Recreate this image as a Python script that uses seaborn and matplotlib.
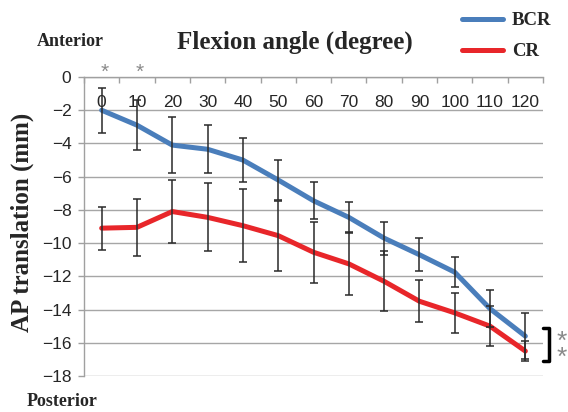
import matplotlib
matplotlib.use("Agg")
import matplotlib.pyplot as plt
import seaborn as sns
import pandas as pd
import numpy as np
from matplotlib.lines import Line2D
from matplotlib.font_manager import FontProperties

angles = [0, 10, 20, 30, 40, 50, 60, 70, 80, 90, 100, 110, 120]
bcr_mean = [-2.0, -2.9, -4.1, -4.35, -5.0, -6.2, -7.45, -8.45, -9.7, -10.7, -11.75, -13.95, -15.6]
bcr_sd = [1.35, 1.5, 1.7, 1.45, 1.3, 1.2, 1.1, 0.95, 1.0, 1.0, 0.9, 1.1, 1.4]
cr_mean = [-9.1, -9.05, -8.1, -8.45, -8.95, -9.55, -10.55, -11.25, -12.3, -13.5, -14.2, -15.0, -16.5]
cr_sd = [1.3, 1.7, 1.9, 2.05, 2.2, 2.1, 1.85, 1.9, 1.8, 1.25, 1.2, 1.2, 0.6]
groups = ["BCR", "CR"]
y_ticks = list(range(-18, 1, 2))

sns.set_style("white")
plt.rcParams["font.family"] = ["Liberation Sans", "DejaVu Sans"]

W, H = 568, 412
fig = plt.figure(figsize=(W / 100, H / 100), dpi=100)
ax = fig.add_axes([84 / W, 1 - 376 / H, (543 - 84) / W, (376 - 77) / H])

df = pd.DataFrame({
    "angle": angles * 2,
    "value": bcr_mean + cr_mean,
    "group": [groups[0]] * len(angles) + [groups[1]] * len(angles),
})
palette = {"BCR": "#4a7ebb", "CR": "#e8262a"}
sns.lineplot(data=df, x="angle", y="value", hue="group", palette=palette,
             linewidth=3.6, ax=ax, sort=False, zorder=2)

for m, s in ((bcr_mean, bcr_sd), (cr_mean, cr_sd)):
    ax.errorbar(angles, m, yerr=s, fmt="none", ecolor="#2a2a2a",
                elinewidth=1.1, capsize=3, capthick=1.1, zorder=3)

ax.set_xlim(-5, 125)
ax.set_ylim(-18, 0)
ax.set_yticks(y_ticks)
ax.set_axisbelow(True)
ax.yaxis.grid(True, color="#a6a6a6", linewidth=1)
ax.xaxis.grid(False)

ax.xaxis.tick_top()
ax.set_xticks(angles)
ax.set_xticklabels([str(a) for a in angles])
ax.set_xticks(np.arange(-5, 126, 10), minor=True)
ax.tick_params(axis="x", which="major", length=0, pad=-24, labelsize=12.5,
               top=True, bottom=False, labeltop=True, labelbottom=False)
ax.tick_params(axis="x", which="minor", direction="in", length=4,
               color="#a0a0a0", width=1, top=True, bottom=False)
ax.tick_params(axis="y", which="major", direction="out", length=4,
               color="#a0a0a0", width=1, left=True, labelsize=12.5, pad=5)

for side in ("right", "bottom"):
    ax.spines[side].set_visible(False)
for side in ("top", "left"):
    ax.spines[side].set_color("#a0a0a0")
    ax.spines[side].set_linewidth(1)

ax.set_xlabel("")
ax.set_ylabel("")

handles, labels = ax.get_legend_handles_labels()
if ax.get_legend() is not None:
    ax.get_legend().remove()
leg = fig.legend(handles, labels, loc="upper left",
                 bbox_to_anchor=(462 / W, 1 - 12 / H), bbox_transform=fig.transFigure,
                 frameon=False,
                 prop=FontProperties(family="Liberation Serif", weight="bold", size=13.5),
                 handlelength=2.2, labelspacing=0.75, handletextpad=0.45,
                 borderaxespad=0, borderpad=0)
for ln in leg.get_lines():
    ln.set_linewidth(3.6)

serif = dict(family="Liberation Serif", weight="bold")
fig.text(295 / W, 1 - 42 / H, "Flexion angle (degree)", ha="center", va="center", size=18, **serif)
fig.text(70 / W, 1 - 41 / H, "Anterior", ha="center", va="center", size=13, **serif)
fig.text(62 / W, 1 - 402 / H, "Posterior", ha="center", va="center", size=13, **serif)
fig.text(22 / W, 1 - 222 / H, "AP translation (mm)", ha="center", va="center",
         rotation=90, size=18, **serif)

# significance markers
for xp in (105, 140):
    fig.text(xp / W, 1 - 72 / H, "*", ha="center", va="center", color="#8a8a8a", size=15)
bx = [543, 549, 549, 543]
by = [328, 328, 361, 361]
fig.add_artist(Line2D([x / W for x in bx], [1 - y / H for y in by],
                      transform=fig.transFigure, color="black", linewidth=2.5))
fig.text(562 / W, 1 - 350 / H, "*\n*", ha="center", va="center", color="#8a8a8a",
         size=19, linespacing=0.6)

fig.savefig("out.png", dpi=100)
